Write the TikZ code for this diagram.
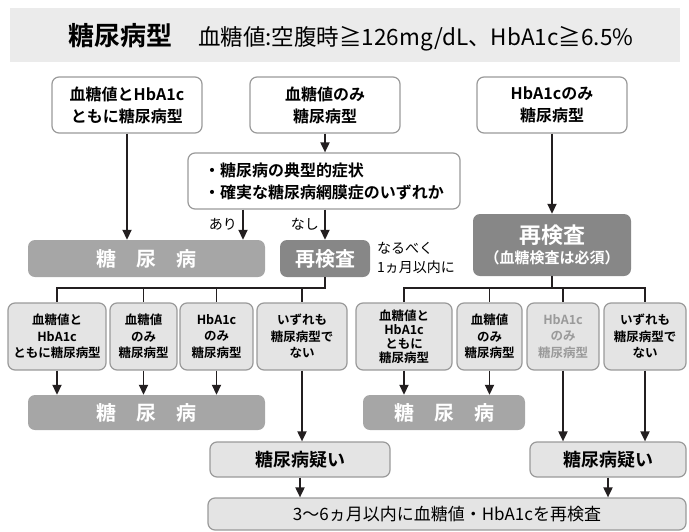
\documentclass[tikz,border=0pt]{standalone}
\usepackage{fontspec}
\setmainfont{Noto Sans CJK JP}[BoldFont={Noto Sans CJK JP Bold}]
\usepackage{xcolor}
\usetikzlibrary{arrows.meta}
\definecolor{bandgray}{HTML}{EBEBEB}
\definecolor{lightbox}{HTML}{E4E4E4}
\definecolor{midbox}{HTML}{A6A6A6}
\definecolor{darkbox}{HTML}{878787}
\definecolor{rimgray}{HTML}{9A9A9A}
\definecolor{inkgray}{HTML}{231F20}

\begin{document}
\begin{tikzpicture}[x=1pt,y=-1pt,
    arr/.style={-{Triangle[length=10pt,width=9pt]},line width=1.8pt,draw=inkgray},
    ln/.style={line width=1.5pt,draw=inkgray},
    wbox/.style={rectangle,rounded corners=7pt,draw=rimgray,line width=1.2pt,fill=white,align=center,inner sep=0pt,font=\bfseries\fontsize{16}{22}\selectfont},
    gbox/.style={wbox,fill=lightbox,font=\bfseries\fontsize{12.5}{16.5}\selectfont},
    dmbox/.style={rectangle,rounded corners=7pt,fill=midbox,text=white,inner sep=0pt,align=center,font=\bfseries\fontsize{20}{24}\selectfont},
    ckbox/.style={dmbox,fill=darkbox},
    note/.style={inner sep=0pt,align=left,font=\fontsize{14}{19}\selectfont}]
    \useasboundingbox (0,0) rectangle (689,531);

    % header
    \node[fill=bandgray,minimum width=670pt,minimum height=54pt,inner sep=0pt] (band) at (345,35) {};
    \node[anchor=base west,inner sep=0pt,font=\bfseries\fontsize{26}{26}\selectfont] (ttl) at (68,45) {糖尿病型};
    \node[anchor=base west,inner sep=0pt,font=\fontsize{22.5}{22}\selectfont] (sub) at (198,45) {血糖値:空腹時≧126mg/dL、HbA1c≧6.5\%};

    % first test
    \node[wbox,minimum width=150pt,minimum height=56pt] (both) at (127,105) {血糖値とHbA1c\\ともに糖尿病型};
    \node[wbox,minimum width=150pt,minimum height=56pt] (gluonly) at (325,105) {血糖値のみ\\糖尿病型};
    \node[wbox,minimum width=150pt,minimum height=56pt] (hbaonly) at (552,105) {HbA1cのみ\\糖尿病型};
    \node[wbox,minimum width=272pt,minimum height=56pt,align=left] (sympt) at (324,181) {・糖尿病の典型的症状\\・確実な糖尿病網膜症のいずれか};

    \node[dmbox,minimum width=237pt,minimum height=37pt] (dm1) at (146.5,258.5) {糖\hspace{1em}尿\hspace{1em}病};
    \node[ckbox,minimum width=90pt,minimum height=37pt] (ck1) at (325,258.5) {再検査};
    \node[note,anchor=west] (soon) at (377,258) {なるべく\\1ヵ月以内に};
    \node[ckbox,minimum width=158pt,minimum height=62pt,font=\bfseries\fontsize{15}{20}\selectfont] (ck2) at (552,245) {{\fontsize{22}{26}\selectfont 再検査}\\（血糖検査は必須）};

    \node[note,anchor=east] (yes) at (237,224) {あり};
    \node[note,anchor=east] (no) at (319,224) {なし};

    % second test
    \node[gbox,minimum width=98pt,minimum height=67pt] (l1) at (57,336.5) {血糖値と\\HbA1c\\ともに糖尿病型};
    \node[gbox,minimum width=67pt,minimum height=67pt] (l2) at (143.5,336.5) {血糖値\\のみ\\糖尿病型};
    \node[gbox,minimum width=73pt,minimum height=67pt] (l3) at (216.5,336.5) {HbA1c\\のみ\\糖尿病型};
    \node[gbox,minimum width=90pt,minimum height=67pt] (l4) at (302,336.5) {いずれも\\糖尿病型で\\ない};
    \node[gbox,minimum width=96pt,minimum height=67pt,font=\bfseries\fontsize{12.5}{14}\selectfont] (r1) at (404,336.5) {血糖値と\\HbA1c\\ともに\\糖尿病型};
    \node[gbox,minimum width=65pt,minimum height=67pt] (r2) at (489.5,336.5) {血糖値\\のみ\\糖尿病型};
    \node[gbox,minimum width=72pt,minimum height=67pt,text=rimgray] (r3) at (563,336.5) {HbA1c\\のみ\\糖尿病型};
    \node[gbox,minimum width=82pt,minimum height=67pt] (r4) at (645,336.5) {いずれも\\糖尿病型で\\ない};

    \node[dmbox,minimum width=237pt,minimum height=35pt] (dm2) at (146.5,412.5) {糖\hspace{1em}尿\hspace{1em}病};
    \node[dmbox,minimum width=162pt,minimum height=35pt] (dm3) at (444,412.5) {糖\hspace{1em}尿\hspace{1em}病};
    \node[gbox,minimum width=180pt,minimum height=35pt,font=\bfseries\fontsize{18}{22}\selectfont] (sus1) at (300,459.5) {糖尿病疑い};
    \node[gbox,minimum width=156pt,minimum height=35pt,font=\bfseries\fontsize{18}{22}\selectfont] (sus2) at (608,459.5) {糖尿病疑い};
    \node[gbox,minimum width=478pt,minimum height=32pt,font=\fontsize{17}{20}\selectfont] (fin) at (447,514) {3〜6ヵ月以内に血糖値・HbA1cを再検査};

    % arrows
    \coordinate (ari) at ([xshift=-81pt]sympt.south);
    \coordinate (nashi) at (sympt.south -| ck1.north);
    \coordinate (fork1) at ([yshift=-11pt]ck1.south);
    \coordinate (fork2) at ([yshift=-12pt]ck2.south);

    \draw[arr] (both.south) -- (both.south |- dm1.north);
    \draw[arr] (gluonly.south) -- (gluonly.south |- sympt.north);
    \draw[arr] (hbaonly.south) -- (ck2.north);
    \draw[arr] (ari) -- (ari |- dm1.north);
    \draw[arr] (nashi) -- (ck1.north);
    \draw[arr] (l1.south) -- (l1.south |- dm2.north);
    \draw[arr] (l2.south) -- (l2.south |- dm2.north);
    \draw[arr] (l3.south) -- (l3.south |- dm2.north);
    \draw[arr] (l4.south) -- (l4.south |- sus1.north);
    \draw[arr] (r1.south) -- (r1.south |- dm3.north);
    \draw[arr] (r2.south) -- (r2.south |- dm3.north);
    \draw[arr] (r3.south) -- (r3.south |- sus2.north);
    \draw[arr] (r4.south) -- (r4.south |- sus2.north);
    \draw[arr] (sus1.south) -- (sus1.south |- fin.north);
    \draw[arr] (sus2.south) -- (sus2.south |- fin.north);

    \draw[ln] (ck1.south) -- (fork1) -| (l1.north);
    \draw[ln] (fork1) -| (l2.north);
    \draw[ln] (fork1) -| (l3.north);
    \draw[ln] (fork1) -| (l4.north);
    \draw[ln] (ck2.south) -- (fork2) -| (r1.north);
    \draw[ln] (fork2) -| (r2.north);
    \draw[ln] (fork2) -| (r3.north);
    \draw[ln] (fork2) -| (r4.north);

\end{tikzpicture}
\end{document}
